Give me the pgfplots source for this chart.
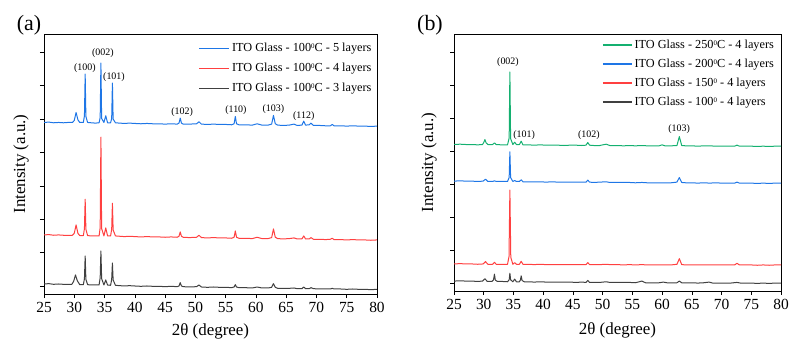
\documentclass[border=0pt]{standalone}
\usepackage{fontspec}
\setmainfont{Liberation Serif}
\usepackage{pgfplots}
\usepackage{pgfplotstable}
\pgfplotsset{compat=1.18}

\definecolor{cblue}{RGB}{30,118,230}
\definecolor{cred}{RGB}{255,64,64}
\definecolor{cblack}{RGB}{64,64,64}
\definecolor{cgreen}{RGB}{20,176,112}

\newcommand{\degsup}{\raisebox{0.62ex}{\fontsize{7}{7}\selectfont 0}}

% ---------- panel (a): 100 C, different layer counts ----------
\pgfplotstableread{
x y
25.0 4.90
25.8 4.91
26.6 4.89
27.4 4.90
28.2 4.89
29.0 4.90
29.7 4.90
30.0 4.96
30.3 5.20
30.6 4.98
30.9 4.90
31.5 4.90
31.68 5.10
31.8 6.35
31.92 5.08
32.2 4.90
32.8 4.89
33.5 4.88
34.1 4.89
34.28 5.05
34.4 6.68
34.52 5.02
34.9 4.90
35.2 5.10
35.5 4.89
36.0 4.89
36.18 5.02
36.3 6.08
36.42 5.00
36.8 4.89
37.5 4.88
38.3 4.87
39.1 4.88
40.0 4.87
41.0 4.86
42.0 4.87
43.0 4.86
44.0 4.86
45.0 4.85
46.0 4.86
47.0 4.85
47.3 4.88
47.5 5.03
47.7 4.88
48.0 4.85
49.0 4.85
50.2 4.86
50.6 4.92
51.0 4.85
52.0 4.84
53.0 4.85
54.0 4.84
55.0 4.84
56.0 4.83
56.4 4.86
56.6 5.08
56.8 4.86
57.2 4.83
58.2 4.83
59.4 4.82
60.2 4.86
61.0 4.82
62.0 4.82
62.6 4.85
62.9 5.11
63.2 4.86
63.6 4.82
64.5 4.81
65.5 4.82
66.3 4.85
66.8 4.81
67.6 4.82
67.9 4.94
68.2 4.82
68.8 4.83
69.1 4.88
69.5 4.81
70.5 4.81
71.5 4.80
72.3 4.80
72.6 4.84
72.9 4.80
74.0 4.80
75.0 4.79
76.0 4.80
77.0 4.79
78.0 4.79
79.0 4.78
80.0 4.79
}\aFive

\pgfplotstableread{
x y
25.0 1.53
25.8 1.54
26.6 1.52
27.4 1.53
28.2 1.52
29.0 1.52
29.7 1.52
30.0 1.58
30.3 1.83
30.6 1.58
30.9 1.51
31.5 1.51
31.68 1.72
31.8 2.60
31.92 1.70
32.2 1.51
32.8 1.50
33.5 1.50
34.1 1.50
34.28 1.75
34.4 4.46
34.52 1.72
34.9 1.50
35.2 1.74
35.5 1.50
36.0 1.50
36.18 1.70
36.3 2.48
36.42 1.68
36.8 1.50
37.5 1.49
38.3 1.48
39.1 1.49
40.0 1.48
41.0 1.47
42.0 1.48
43.0 1.47
44.0 1.47
45.0 1.46
46.0 1.47
47.0 1.46
47.3 1.49
47.5 1.62
47.7 1.49
48.0 1.46
49.0 1.45
50.2 1.46
50.6 1.52
51.0 1.45
52.0 1.44
53.0 1.45
54.0 1.44
55.0 1.44
56.0 1.43
56.4 1.46
56.6 1.65
56.8 1.46
57.2 1.43
58.2 1.43
59.4 1.42
60.2 1.46
61.0 1.42
62.0 1.42
62.6 1.45
62.9 1.71
63.2 1.46
63.6 1.42
64.5 1.41
65.5 1.42
66.3 1.44
66.8 1.41
67.6 1.41
67.9 1.50
68.2 1.41
68.8 1.41
69.1 1.45
69.5 1.40
70.5 1.40
71.5 1.39
72.3 1.40
72.6 1.43
72.9 1.39
74.0 1.39
75.0 1.38
76.0 1.39
77.0 1.38
78.0 1.38
79.0 1.37
80.0 1.38
}\aFour

\pgfplotstableread{
x y
25.0 0.06
25.8 0.07
26.6 0.05
27.4 0.06
28.2 0.05
29.0 0.05
29.6 0.05
29.9 0.14
30.2 0.33
30.5 0.16
30.9 0.04
31.5 0.04
31.68 0.22
31.8 0.90
31.92 0.20
32.2 0.04
32.8 0.03
33.5 0.03
34.1 0.03
34.28 0.25
34.4 1.05
34.52 0.22
34.9 0.03
35.2 0.18
35.5 0.03
36.0 0.02
36.18 0.20
36.3 0.69
36.42 0.18
36.8 0.02
37.5 0.01
38.3 0.00
39.1 0.01
40.0 0.00
41.0 -0.01
42.0 0.00
43.0 -0.01
44.0 -0.01
45.0 -0.02
46.0 -0.01
47.0 -0.02
47.3 0.00
47.5 0.10
47.7 0.00
48.0 -0.02
49.0 -0.03
50.2 -0.02
50.6 0.03
51.0 -0.03
52.0 -0.04
53.0 -0.03
54.0 -0.04
55.0 -0.04
56.0 -0.05
56.4 -0.03
56.6 0.04
56.8 -0.03
57.2 -0.05
58.2 -0.05
59.4 -0.06
60.2 -0.03
61.0 -0.06
62.0 -0.06
62.6 -0.04
62.9 0.07
63.2 -0.04
63.6 -0.07
64.5 -0.07
65.5 -0.07
66.3 -0.06
66.8 -0.08
67.6 -0.08
67.9 -0.03
68.2 -0.08
68.8 -0.08
69.1 -0.05
69.5 -0.08
70.5 -0.09
71.5 -0.09
72.3 -0.09
72.6 -0.07
72.9 -0.09
74.0 -0.09
75.0 -0.10
76.0 -0.09
77.0 -0.10
78.0 -0.10
79.0 -0.11
80.0 -0.10
}\aThree

% ---------- panel (b): 4 layers, different temperatures ----------
\pgfplotstableread{
x y
25.0 4.20
26.0 4.21
27.0 4.20
28.0 4.20
29.0 4.19
29.8 4.20
30.0 4.26
30.2 4.35
30.4 4.25
30.7 4.20
31.5 4.20
31.8 4.25
32.1 4.20
33.0 4.19
34.0 4.19
34.28 4.40
34.4 6.40
34.52 4.38
34.9 4.20
35.2 4.27
35.5 4.20
36.0 4.20
36.3 4.30
36.6 4.19
37.5 4.19
38.5 4.18
39.5 4.19
40.5 4.18
41.5 4.18
42.5 4.18
43.5 4.17
44.5 4.18
45.5 4.18
46.5 4.17
47.2 4.18
47.5 4.26
47.8 4.18
48.5 4.17
49.5 4.17
50.6 4.21
51.2 4.17
52.5 4.17
53.5 4.16
54.5 4.17
55.5 4.16
56.6 4.17
57.5 4.16
58.5 4.16
59.5 4.16
60.0 4.19
60.5 4.16
61.5 4.16
62.5 4.17
62.9 4.44
63.3 4.17
64.0 4.16
65.0 4.16
66.0 4.15
67.0 4.16
68.0 4.16
69.0 4.15
70.0 4.15
71.0 4.15
72.2 4.15
72.6 4.18
73.0 4.15
74.0 4.15
75.0 4.15
76.0 4.14
77.0 4.15
78.0 4.14
79.0 4.15
80.0 4.15
}\bTwoFifty

\pgfplotstableread{
x y
25.0 3.09
26.0 3.10
27.0 3.09
28.0 3.09
29.0 3.08
29.9 3.09
30.3 3.15
30.7 3.08
31.5 3.08
31.8 3.10
32.1 3.08
33.0 3.08
34.0 3.08
34.28 3.20
34.4 3.98
34.52 3.20
34.9 3.08
35.2 3.11
35.5 3.08
36.0 3.08
36.3 3.13
36.6 3.07
37.5 3.07
38.5 3.07
39.5 3.07
40.5 3.06
41.5 3.07
42.5 3.06
43.5 3.06
44.5 3.06
45.5 3.06
46.5 3.06
47.2 3.06
47.5 3.12
47.8 3.06
48.5 3.05
49.5 3.06
50.6 3.07
51.2 3.05
52.5 3.05
53.5 3.05
54.5 3.05
55.5 3.04
56.6 3.05
57.5 3.04
58.5 3.04
59.5 3.04
60.5 3.04
61.5 3.04
62.5 3.06
62.9 3.20
63.3 3.05
64.0 3.04
65.0 3.04
66.0 3.03
67.0 3.04
68.0 3.03
69.0 3.04
70.0 3.03
71.0 3.03
72.2 3.03
72.6 3.06
73.0 3.03
74.0 3.03
75.0 3.03
76.0 3.02
77.0 3.03
78.0 3.02
79.0 3.03
80.0 3.03
}\bTwoHundred

\pgfplotstableread{
x y
25.0 0.58
26.0 0.59
27.0 0.58
28.0 0.58
29.0 0.57
29.9 0.58
30.3 0.65
30.7 0.57
31.5 0.57
31.8 0.63
32.1 0.57
33.0 0.57
34.0 0.57
34.25 0.80
34.4 2.82
34.55 0.78
34.9 0.57
35.2 0.62
35.5 0.57
36.0 0.57
36.3 0.66
36.6 0.57
37.5 0.57
38.5 0.56
39.5 0.57
40.5 0.56
41.5 0.56
42.5 0.56
43.5 0.56
44.5 0.56
45.5 0.56
46.5 0.56
47.2 0.56
47.5 0.62
47.8 0.56
48.5 0.56
49.5 0.56
50.6 0.57
51.2 0.56
52.5 0.56
53.5 0.55
54.5 0.56
55.5 0.55
56.6 0.56
57.5 0.55
58.5 0.55
59.5 0.55
60.5 0.55
61.5 0.55
62.5 0.57
62.9 0.74
63.3 0.56
64.0 0.55
65.0 0.55
66.0 0.55
67.0 0.55
68.0 0.55
69.0 0.55
70.0 0.55
71.0 0.55
72.2 0.55
72.6 0.60
73.0 0.55
74.0 0.55
75.0 0.55
76.0 0.54
77.0 0.55
78.0 0.54
79.0 0.55
80.0 0.55
}\bOneFifty

\pgfplotstableread{
x y
25.0 0.06
26.0 0.07
27.0 0.06
28.0 0.06
29.0 0.05
29.8 0.06
30.2 0.13
30.6 0.05
31.4 0.05
31.65 0.10
31.8 0.27
31.95 0.09
32.3 0.05
33.0 0.05
34.0 0.04
34.28 0.10
34.4 0.30
34.52 0.10
34.9 0.04
35.2 0.12
35.5 0.04
36.0 0.04
36.18 0.10
36.3 0.22
36.45 0.08
36.8 0.04
37.5 0.04
38.5 0.03
39.5 0.04
40.5 0.03
41.5 0.03
42.5 0.03
43.5 0.03
44.5 0.03
45.5 0.02
46.5 0.03
47.2 0.02
47.5 0.08
47.8 0.02
48.5 0.02
49.5 0.02
50.6 0.04
51.2 0.02
52.5 0.02
53.5 0.02
54.5 0.02
55.5 0.01
56.6 0.06
57.2 0.01
58.5 0.01
59.5 0.01
60.2 0.03
60.8 0.01
61.5 0.01
62.5 0.01
62.9 0.06
63.3 0.01
64.0 0.01
65.0 0.01
66.0 0.00
67.0 0.01
67.9 0.03
68.5 0.00
69.5 0.00
70.5 0.00
71.5 0.00
72.6 0.02
73.2 0.00
74.0 0.00
75.0 0.00
76.0 -0.01
77.0 0.00
78.0 -0.01
79.0 0.00
80.0 0.00
}\bOneHundred

\pgfplotsset{
  xrdaxis/.style={
    scale only axis,
    xmin=25, xmax=80,
    ymin=-0.24, ymax=7.55,
    xtick={25,30,...,80},
    ytick={0,1,...,7},
    yticklabels={},
    tick align=outside,
    major tick length=4bp,
    xtick pos=bottom, ytick pos=left,
    tick style={black, line width=0.6bp},
    axis line style={line width=0.7bp},
    /pgf/number format/assume math mode=true,
    ticklabel style={font=\rmfamily\fontsize{15.5}{18}\selectfont},
    xticklabel style={yshift=-1bp},
    label style={font=\rmfamily\fontsize{17}{20}\selectfont},
    xlabel={2θ (degree)},
    ylabel={Intensity (a.u.)},
    legend cell align=left,
    every axis plot/.append style={line width=1bp, line join=round},
  },
}
\tikzset{peak/.style={font=\rmfamily\fontsize{10}{12}\selectfont, inner sep=0pt}}

\begin{document}
\begin{tikzpicture}
\useasboundingbox (0,0) rectangle (796bp,348bp);

% panel (a)
\begin{axis}[xrdaxis,
  at={(44bp,54bp)}, anchor=south west,
  width=333bp, height=260bp,
  xlabel style={at={(axis description cs:0.5,-0.142)}, anchor=center},
  ylabel style={at={(axis description cs:-0.069,0.5)}, anchor=center},
  legend image code/.code={\draw[#1, line width=1.3bp] (0bp,0bp) -- (30bp,0bp);},
  legend style={draw=none, fill=none, at={(axis description cs:0.99,0.972)},
    anchor=north east, font=\rmfamily\fontsize{12.3}{14}\selectfont,
    row sep=6bp, inner sep=0bp},
]
\addplot[cblue] table {\aFive};
\addlegendentry{ITO Glass - 100\degsup C - 5 layers}
\addplot[cred] table {\aFour};
\addlegendentry{ITO Glass - 100\degsup C - 4 layers}
\addplot[cblack] table {\aThree};
\addlegendentry{ITO Glass - 100\degsup C - 3 layers}
\node[peak] at (axis cs:31.75,6.52) {(100)};
\node[peak] at (axis cs:34.74,6.97) {(002)};
\node[peak] at (axis cs:36.56,6.25) {(101)};
\node[peak] at (axis cs:47.8,5.20) {(102)};
\node[peak] at (axis cs:56.7,5.26) {(110)};
\node[peak] at (axis cs:62.9,5.29) {(103)};
\node[peak] at (axis cs:67.9,5.09) {(112)};
\end{axis}
\node[font=\rmfamily\fontsize{22}{26}\selectfont] at (29bp,323bp) {(a)};

% panel (b)
\begin{axis}[xrdaxis,
  at={(454bp,57bp)}, anchor=south west,
  width=327bp, height=257bp,
  xlabel style={at={(axis description cs:0.5,-0.152)}, anchor=center},
  ylabel style={at={(axis description cs:-0.076,0.5)}, anchor=center},
  legend image code/.code={\draw[#1, line width=1.3bp] (0bp,0bp) -- (29bp,0bp);},
  legend style={draw=none, fill=none, at={(axis description cs:0.985,0.985)},
    anchor=north east, font=\rmfamily\fontsize{12.3}{14}\selectfont,
    row sep=5bp, inner sep=0bp},
]
\addplot[cgreen] table {\bTwoFifty};
\addlegendentry{ITO Glass - 250\degsup C - 4 layers}
\addplot[cblue] table {\bTwoHundred};
\addlegendentry{ITO Glass - 200\degsup C - 4 layers}
\addplot[cred] table {\bOneFifty};
\addlegendentry{ITO Glass - 150\degsup\ - 4 layers}
\addplot[cblack] table {\bOneHundred};
\addlegendentry{ITO Glass - 100\degsup\ - 4 layers}
\node[peak] at (axis cs:34.08,6.69) {(002)};
\node[peak] at (axis cs:36.8,4.48) {(101)};
\node[peak] at (axis cs:47.7,4.48) {(102)};
\node[peak] at (axis cs:62.85,4.68) {(103)};
\end{axis}
\node[font=\rmfamily\fontsize{22}{26}\selectfont] at (430bp,323bp) {(b)};
\end{tikzpicture}
\end{document}
